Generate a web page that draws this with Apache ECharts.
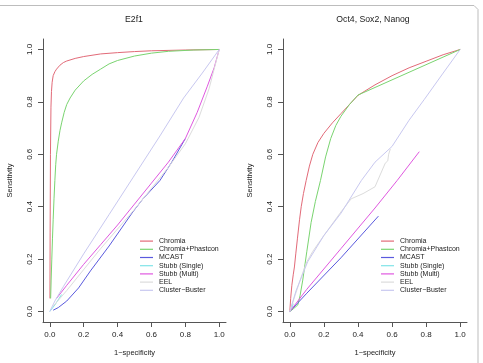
<!DOCTYPE html>
<html>
<head>
<meta charset="utf-8">
<style>
  html, body { margin: 0; padding: 0; background: #fff; }
  #chart { width: 483px; height: 363px; }
</style>
<script src="https://cdn.jsdelivr.net/npm/echarts@6/dist/echarts.min.js"></script>
</head>
<body>
<div id="chart"></div>
<script>
// ---- data ----
const names = ['Chromia', 'Chromia+Phastcon', 'MCAST', 'Stubb (Single)', 'Stubb (Multi)', 'EEL', 'Cluster\u2212Buster'];
const colors = ['#e26a78', '#7ad470', '#5a5ade', '#80e4e8', '#e058e0', '#dcdcdc', '#c8c8f0'];
const ticks = [0, 0.2, 0.4, 0.6, 0.8, 1.0];

// panel 1: E2f1
const chromiaL = [[0.001,0.05],[0.002,0.3],[0.004,0.6],[0.007,0.78],[0.01,0.84],[0.014,0.875],[0.02,0.9],[0.03,0.915],[0.04,0.925],[0.06,0.94],[0.08,0.95],[0.1,0.956],[0.15,0.966],[0.2,0.973],[0.3,0.983],[0.4,0.988],[0.5,0.992],[0.6,0.995],[0.8,0.998],[1,1]];
const phastL = [[0.005,0.05],[0.008,0.12],[0.012,0.2],[0.016,0.28],[0.02,0.35],[0.025,0.43],[0.03,0.5],[0.035,0.56],[0.04,0.6],[0.05,0.65],[0.06,0.69],[0.07,0.72],[0.085,0.76],[0.1,0.79],[0.12,0.815],[0.15,0.845],[0.2,0.88],[0.25,0.905],[0.3,0.925],[0.35,0.945],[0.4,0.958],[0.5,0.975],[0.6,0.986],[0.7,0.993],[0.85,0.998],[1,1]];
const mcastL = [[0.02,0.005],[0.05,0.015],[0.1,0.04],[0.17,0.09],[0.24,0.155],[0.35,0.25],[0.49,0.38],[0.55,0.43],[0.65,0.5],[0.72,0.57],[0.8,0.66]];
const stubbSL = [[0,0],[0.03,0.025],[0.07,0.065]];
const stubbML = [[0.04,0.05],[0.1,0.1],[0.2,0.18],[0.3,0.255],[0.4,0.33],[0.5,0.41],[0.6,0.49],[0.7,0.57],[0.8,0.66],[0.87,0.76],[0.93,0.86],[0.97,0.93],[1,1]];
const eelL = [[0.02,0.02],[0.1,0.08],[0.3,0.24],[0.5,0.39],[0.6,0.47],[0.7,0.55],[0.8,0.64],[0.88,0.74],[0.94,0.85],[1,1]];
const clusterL = [[0,0],[0.03,0.04],[0.08,0.095],[0.2,0.22],[0.35,0.37],[0.49,0.51],[0.65,0.67],[0.79,0.815],[0.9,0.91],[1,1]];

// panel 2: Oct4, Sox2, Nanog
const chromiaR = [[0,0],[0.005,0.05],[0.012,0.1],[0.02,0.14],[0.027,0.17],[0.035,0.22],[0.045,0.28],[0.057,0.35],[0.067,0.4],[0.08,0.45],[0.096,0.5],[0.115,0.555],[0.135,0.6],[0.165,0.645],[0.2,0.68],[0.25,0.72],[0.3,0.755],[0.35,0.79],[0.4,0.825],[0.5,0.865],[0.6,0.9],[0.7,0.93],[0.8,0.955],[0.9,0.98],[1,1]];
const phastR = [[0,0],[0.02,0.01],[0.047,0.025],[0.06,0.06],[0.076,0.12],[0.1,0.23],[0.125,0.34],[0.15,0.42],[0.18,0.5],[0.21,0.59],[0.24,0.66],[0.27,0.71],[0.3,0.745],[0.35,0.79],[0.4,0.826],[1,1]];
const mcastR = [[0,0],[0.1,0.07],[0.3,0.205],[0.52,0.364]];
const stubbSR = [[0,0],[0.01,0.01],[0.02,0.03]];
const stubbMR = [[0,0],[0.1,0.085],[0.3,0.24],[0.5,0.395],[0.63,0.5],[0.76,0.61]];
const eelR = [[0,0],[0.03,0.06],[0.066,0.13],[0.1,0.19],[0.135,0.23],[0.2,0.29],[0.3,0.38],[0.36,0.43],[0.43,0.45],[0.5,0.476],[0.56,0.566],[0.575,0.575],[0.58,0.6],[0.59,0.605],[0.59,0.62]];
const clusterR = [[0,0],[0.037,0.08],[0.105,0.19],[0.2,0.29],[0.3,0.375],[0.42,0.5],[0.5,0.57],[0.6,0.63],[0.7,0.73],[0.79,0.81],[0.9,0.91],[1,1]];

const panelL = [chromiaL, phastL, mcastL, stubbSL, stubbML, eelL, clusterL];
const panelR = [chromiaR, phastR, mcastR, stubbSR, stubbMR, eelR, clusterR];

const FONT = 'Liberation Sans, Arial, Helvetica, sans-serif';
const AX = '#555';

function axisX(idx) {
  return {
    gridIndex: idx, type: 'value', min: -0.04, max: 1.04,
    name: '1\u2212specificity', nameLocation: 'middle', nameGap: 27,
    nameTextStyle: { fontFamily: FONT, fontSize: 7.5, color: '#222' },
    axisLine: { show: true, onZero: false, lineStyle: { color: AX, width: 1 } },
    axisTick: { show: true, length: 5, customValues: ticks, lineStyle: { color: AX } },
    axisLabel: { customValues: ticks, margin: 9, fontFamily: FONT, fontSize: 8, color: '#222',
                 formatter: v => v.toFixed(1) },
    splitLine: { show: false },
  };
}
function axisY(idx) {
  return {
    gridIndex: idx, type: 'value', min: -0.04, max: 1.04,
    name: 'Sensitivity', nameLocation: 'middle', nameGap: 29,
    nameTextStyle: { fontFamily: FONT, fontSize: 7.5, color: '#222' },
    axisLine: { show: true, onZero: false, lineStyle: { color: AX, width: 1 } },
    axisTick: { show: true, length: 5, customValues: ticks, lineStyle: { color: AX } },
    axisLabel: { customValues: ticks, rotate: 90, margin: 9, fontFamily: FONT, fontSize: 8, color: '#222',
                 formatter: v => v.toFixed(1) },
    splitLine: { show: false },
  };
}

const series = [];
[panelL, panelR].forEach((panel, p) => {
  panel.forEach((d, i) => {
    series.push({
      name: names[i], type: 'line', xAxisIndex: p, yAxisIndex: p,
      data: d, symbol: 'none', smooth: false,
      lineStyle: { color: colors[i], width: 1 }, itemStyle: { color: colors[i] },
    });
  });
});

// legend rows: icon is a thin bar in each row, text beside it
function legend(left) {
  return {
    data: names.map((n, i) => ({
      name: n, icon: 'path://M0,0L13,0L13,1.2L0,1.2Z',
      itemStyle: { color: colors[i], borderWidth: 0, opacity: 1 },
    })),
    orient: 'vertical', left: left, top: 237,
    itemWidth: 13, itemHeight: 1.2, itemGap: 0, padding: 0, selectedMode: false,
    lineStyle: { width: 0 },
    textStyle: { fontFamily: FONT, fontSize: 7, color: '#222', lineHeight: 8.2, padding: [0, 0, 0, 1] },
  };
}

const chart = echarts.init(document.getElementById('chart'), null, { renderer: 'canvas' });
chart.setOption({
  animation: false,
  backgroundColor: '#fff',
  title: [
    { text: 'E2f1', left: 134, top: 15, textAlign: 'center', padding: 0,
      textStyle: { fontFamily: FONT, fontSize: 8.7, fontWeight: 'normal', color: '#222' } },
    { text: 'Oct4, Sox2, Nanog', left: 373, top: 15, textAlign: 'center', padding: 0,
      textStyle: { fontFamily: FONT, fontSize: 8.7, fontWeight: 'normal', color: '#222' } },
  ],
  grid: [
    { left: 43, top: 39, width: 183, height: 283 },
    { left: 283, top: 39, width: 184, height: 283 },
  ],
  xAxis: [axisX(0), axisX(1)],
  yAxis: [axisY(0), axisY(1)],
  legend: [legend(140), legend(381)],
  graphic: [{
    type: 'polyline', silent: true,
    shape: { points: [[0, 5.5], [474, 5.5], [478, 9.5], [478, 363]] },
    style: { stroke: '#bdbdbd', lineWidth: 1, fill: null },
  }],
  series,
});
</script>
</body>
</html>
